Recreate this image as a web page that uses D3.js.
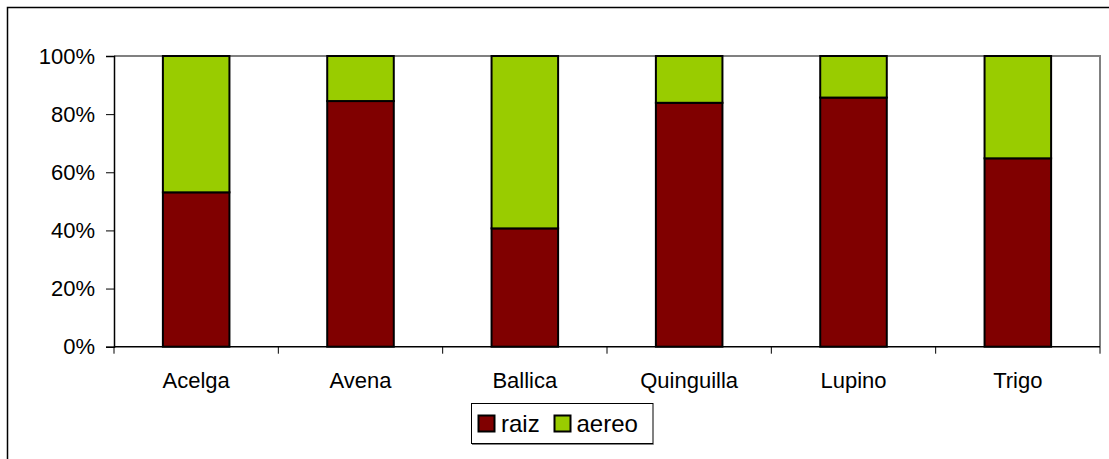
<!DOCTYPE html>
<html>
<head>
<meta charset="utf-8">
<script src="https://cdn.jsdelivr.net/npm/d3@7"></script>
<style>
  html, body { margin: 0; padding: 0; background: #fff; }
  svg { display: block; }
  text { font-family: "Liberation Sans", Arial, sans-serif; fill: #000; }
</style>
</head>
<body>
<svg id="chart" width="1109" height="459"></svg>
<script>
const categories = ["Acelga", "Avena", "Ballica", "Quinguilla", "Lupino", "Trigo"];
const raiz  = [53.1, 84.5, 40.7, 83.9, 85.7, 64.8];
const aereo = [46.9, 15.5, 59.3, 16.1, 14.3, 35.2];
const seriesNames = ["raiz", "aereo"];
const seriesColors = ["#800000", "#99CC00"];
const yTicks = [0, 20, 40, 60, 80, 100];

const svg = d3.select("#chart");
const W = 1109, H = 459;
const plot = { left: 114, right: 1100, top: 56, bottom: 346.7 };

// outer frame (only top/left visible in reference)
svg.append("rect")
  .attr("x", 7.5).attr("y", 7.5).attr("width", 1200).attr("height", 600)
  .attr("fill", "none").attr("stroke", "#000").attr("stroke-width", 1.5);

const x = d3.scaleBand().domain(categories)
  .range([plot.left, plot.right]).paddingInner(0.595).paddingOuter(0.2975);
const y = d3.scaleLinear().domain([0, 100]).range([plot.bottom, plot.top]);

// plot area border (gray, top & right)
svg.append("path")
  .attr("d", `M${plot.left},${plot.top}H${plot.right}V${plot.bottom}`)
  .attr("fill", "none").attr("stroke", "#808080").attr("stroke-width", 2);

// stacked data
const rows = categories.map((c, i) => ({ cat: c, raiz: raiz[i], aereo: aereo[i] }));
const stack = d3.stack().keys(seriesNames)(rows);

svg.append("g").selectAll("g").data(stack).join("g")
  .attr("fill", (d, i) => seriesColors[i])
  .selectAll("rect").data(d => d).join("rect")
  .attr("x", d => x(d.data.cat))
  .attr("width", x.bandwidth())
  .attr("y", d => y(d[1]))
  .attr("height", d => y(d[0]) - y(d[1]))
  .attr("stroke", "#000").attr("stroke-width", 2);

// y axis
const yAxis = d3.axisLeft(y).tickValues(yTicks).tickFormat(d => d + "%")
  .tickSize(8).tickPadding(11);
const yg = svg.append("g").attr("transform", `translate(${plot.left},0)`).call(yAxis);
yg.select(".domain").attr("stroke", "#000").attr("stroke-width", 1.5);
yg.selectAll(".tick line").attr("stroke", "#000").attr("stroke-width", 1);
yg.selectAll(".tick text").attr("font-size", 22).attr("font-family", "Liberation Sans, Arial, sans-serif").attr("fill", "#000");

// x axis: line with ticks at category boundaries
const xg = svg.append("g").attr("transform", `translate(0,${plot.bottom})`);
xg.append("line").attr("x1", plot.left).attr("x2", plot.right)
  .attr("stroke", "#000").attr("stroke-width", 1.5);
const bounds = categories.map(c => x(c) - x.step() * x.paddingInner() / 2 - 0).concat([plot.right]);
const boundsFixed = d3.range(categories.length + 1).map(i => plot.left + i * x.step());
xg.selectAll("line.tk").data(boundsFixed).join("line").attr("class", "tk")
  .attr("x1", d => d).attr("x2", d => d).attr("y1", 0).attr("y2", 7)
  .attr("stroke", "#000").attr("stroke-width", 1);
xg.selectAll("text").data(categories).join("text")
  .attr("x", d => x(d) + x.bandwidth() / 2)
  .attr("y", 41.5)
  .attr("text-anchor", "middle")
  .attr("font-size", 22)
  .text(d => d);

// legend
const lg = svg.append("g");
lg.append("rect").attr("x", 471.5).attr("y", 403.5).attr("width", 181.5).attr("height", 40)
  .attr("fill", "#fff").attr("stroke", "#000").attr("stroke-width", 1);
lg.append("path").attr("d", "M472,444.5H653.5V404").attr("fill", "none").attr("stroke", "#808080").attr("stroke-width", 1);
const legendX = [478.5, 554.5];
const legendTextX = [501, 576.5];
seriesNames.forEach((s, i) => {
  lg.append("rect").attr("x", legendX[i]).attr("y", 415.5).attr("width", 16).attr("height", 16)
    .attr("fill", seriesColors[i]).attr("stroke", "#000").attr("stroke-width", 2);
  lg.append("text").attr("x", legendTextX[i]).attr("y", 432).attr("font-size", 24).text(s);
});
</script>
</body>
</html>
